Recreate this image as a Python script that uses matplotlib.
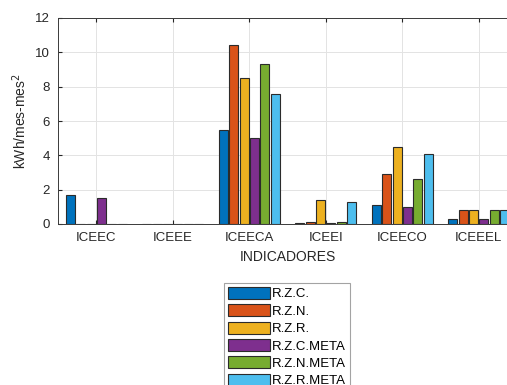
import matplotlib
matplotlib.use('Agg')
import matplotlib.pyplot as plt
import numpy as np

plt.rcParams['font.family'] = ['Liberation Sans', 'DejaVu Sans']

indicadores = ['ICEEC', 'ICEEE', 'ICEECA', 'ICEEI', 'ICEECO', 'ICEEEL']
series = ['R.Z.C.', 'R.Z.N.', 'R.Z.R.', 'R.Z.C.META', 'R.Z.N.META', 'R.Z.R.META']

rzc = [1.7, 0.0, 5.5, 0.05, 1.1, 0.3]
rzn = [0.0, 0.0, 10.4, 0.1, 2.9, 0.8]
rzr = [0.0, 0.0, 8.5, 1.4, 4.5, 0.8]
rzc_meta = [1.5, 0.0, 5.0, 0.05, 1.0, 0.3]
rzn_meta = [0.0, 0.0, 9.3, 0.1, 2.6, 0.8]
rzr_meta = [0.0, 0.0, 7.6, 1.3, 4.1, 0.8]

values = [rzc, rzn, rzr, rzc_meta, rzn_meta, rzr_meta]
colors = ['#0072BD', '#D95319', '#EDB120', '#7E2F8E', '#77AC30', '#4DBEEE']

fig = plt.figure(figsize=(5.07, 3.85), dpi=100)
fig.patch.set_facecolor('white')
# axes runs past the right edge of the figure
ax = fig.add_axes([58 / 507, (385 - 224) / 385, (517 - 58) / 507, 206 / 385])

x = np.arange(1, len(indicadores) + 1)
step = 0.135
width = 0.118
for i, (vals, c, lab) in enumerate(zip(values, colors, series)):
    ax.bar(x + (i - 2.5) * step, vals, width=width, color=c,
           edgecolor='#2b2b2b', linewidth=0.8, label=lab, zorder=3)

ax.set_xlim(0.5, 6.5)
ax.set_ylim(0, 12)
ax.set_xticks(x)
ax.set_xticklabels(indicadores)
ax.set_yticks(np.arange(0, 13, 2))
ax.grid(True, color='#e3e3e3', linewidth=0.7, zorder=0)
ax.tick_params(direction='in', length=3, colors='#262626', labelsize=9.5,
               top=True, right=True, pad=6)
for s in ax.spines.values():
    s.set_color('#3a3a3a')
    s.set_linewidth(0.7)

ax.set_xlabel('INDICADORES', fontsize=10, color='#262626', labelpad=4)
ax.set_ylabel('kWh/mes-mes$^2$', fontsize=10, color='#262626', labelpad=4)

leg = fig.legend(loc='upper left', bbox_to_anchor=(224 / 507, 1 - 283 / 385),
                 fontsize=9.5, frameon=True, fancybox=False, shadow=False,
                 handlelength=3.2, handleheight=1.0, labelspacing=0.3,
                 handletextpad=0.15, borderpad=0.3, borderaxespad=0)
leg.get_frame().set_edgecolor('#8c8c8c')
leg.get_frame().set_linewidth(0.8)

plt.savefig('out.png', dpi=100, facecolor='white')
print("DONE: out.png")
